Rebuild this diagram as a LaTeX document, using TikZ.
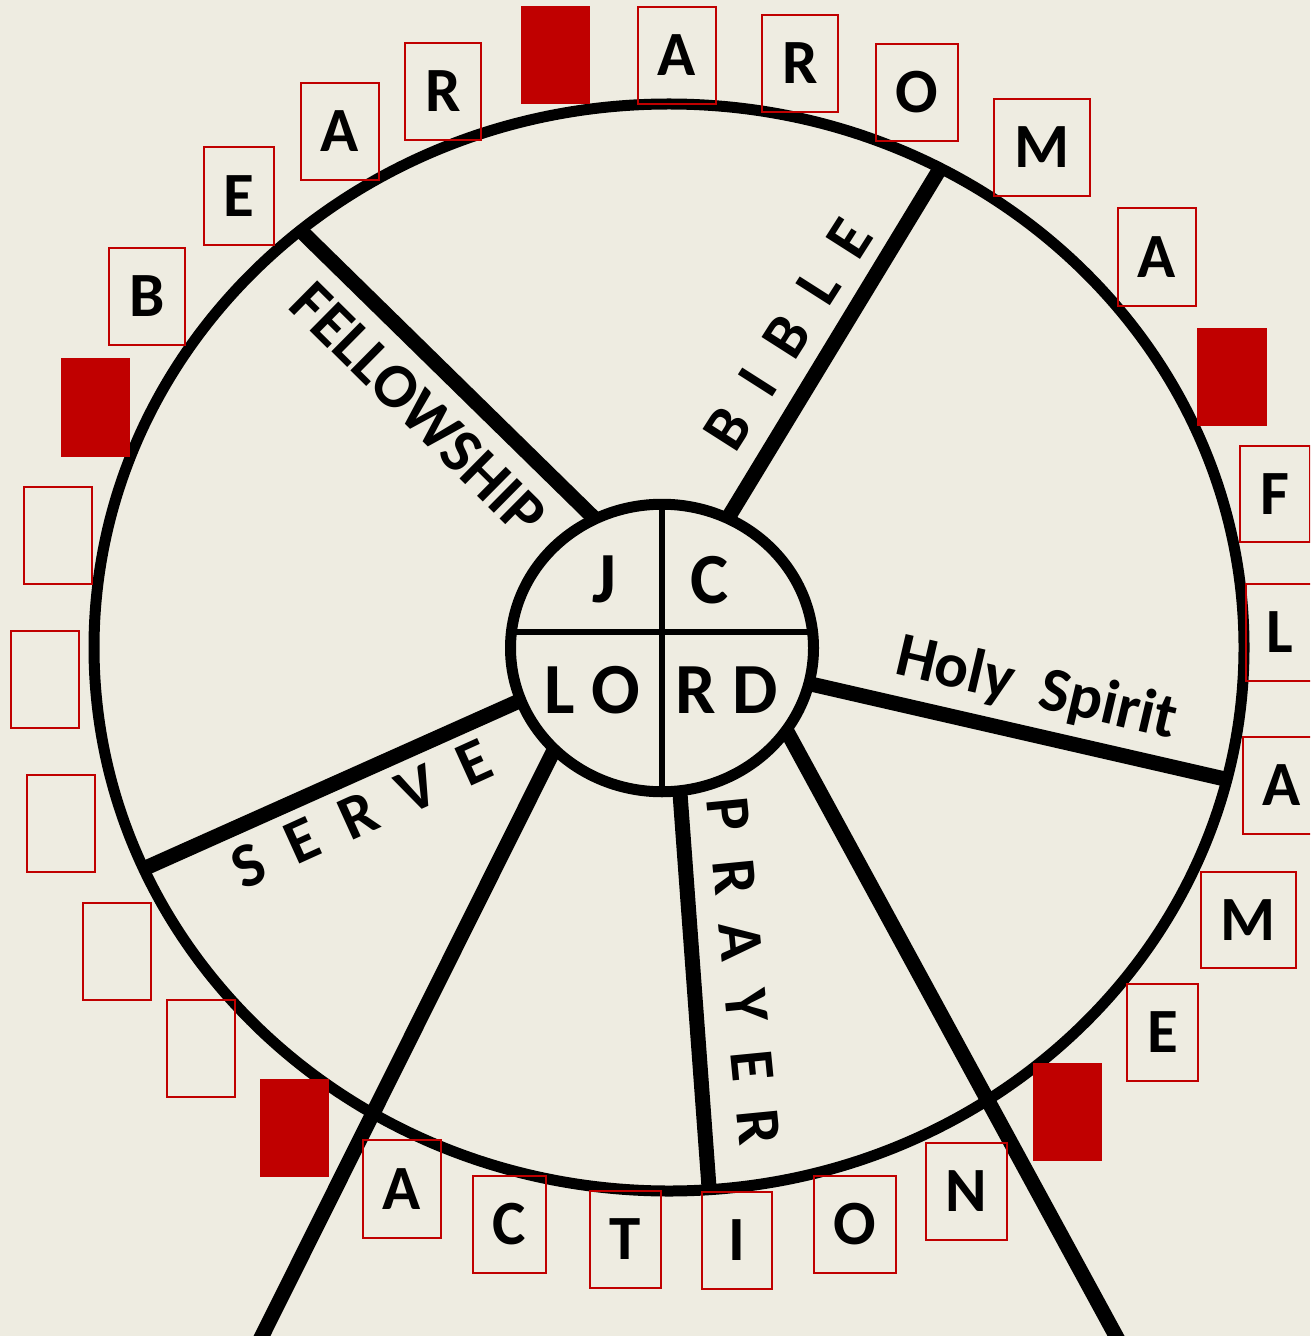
\documentclass[tikz,border=0pt]{standalone}
\usepackage{fontspec}
\setmainfont{Carlito}
\usetikzlibrary{fit}
\definecolor{bgc}{RGB}{238,236,225}
\definecolor{redc}{RGB}{192,0,0}
% letter box: #1 name, #2-#5 corners, #6 letter
\newcommand\lbx[6]{%
  \node[redbox, fit={(#2,#3) (#4,#5)}] (#1) {};
  \node[boxletter] (#1t) at (#1.center) {#6};
}
\begin{document}
\begin{tikzpicture}[x=0.5pt,y=-0.5pt,
  spoke/.style={line width=7.5pt, line cap=butt},
  rim/.style={line width=5.5pt},
  qline/.style={line width=3pt},
  lblfont/.style={font=\fontsize{31.5}{36}\selectfont\bfseries, inner sep=0pt, text=black},
  hubfont/.style={font=\fontsize{36}{40}\selectfont\bfseries, inner sep=0pt, text=black},
  redbox/.style={draw=redc, line width=1pt, inner sep=0pt},
  boxletter/.style={font=\fontsize{31.5}{36}\selectfont\bfseries, inner sep=0pt, text=black, anchor=center},
  redfill/.style={fill=redc, draw=none, inner sep=0pt}
]
\useasboundingbox (0,0) rectangle (1310,1336);
\fill[bgc] (0,0) rectangle (1310,1336);
\clip (0,0) rectangle (1310,1336);

% centres
\coordinate (wc) at (669,647.5);
\coordinate (hub) at (662,648);

% spoke end points
\coordinate (s1a) at (605.7,529.5); \coordinate (s1b) at (289.3,219.5);
\coordinate (s2a) at (719.9,531.3); \coordinate (s2b) at (948,155.6);
\coordinate (s3a) at (794.2,680.2); \coordinate (s3b) at (1241.5,782.8);
\coordinate (s4a) at (779.1,717.0); \coordinate (s4b) at (1122,1347);
\coordinate (s5a) at (678.7,775.8); \coordinate (s5b) at (710.3,1204.8);
\coordinate (s6a) at (561.1,735.8); \coordinate (s6b) at (258,1344);
\coordinate (s7a) at (534.5,694.2); \coordinate (s7b) at (130,874.9);

% short spokes, cut at the rim
\begin{scope}
  \clip (wc) ellipse [x radius=287.5pt, y radius=271.75pt];
  \draw[spoke] (s1a) -- (s1b);
  \draw[spoke] (s2a) -- (s2b);
  \draw[spoke] (s3a) -- (s3b);
  \draw[spoke] (s5a) -- (s5b);
  \draw[spoke] (s7a) -- (s7b);
\end{scope}
% long spokes
\draw[spoke] (s4a) -- (s4b);
\draw[spoke] (s6a) -- (s6b);

% wheel rim
\draw[rim] (wc) ellipse [x radius=287.5pt, y radius=271.75pt];

% hub
\fill[bgc] (hub) ellipse [x radius=75.75pt, y radius=71.875pt];
\coordinate (q1) at (662,490); \coordinate (q2) at (662,806);
\coordinate (q3) at (500,632); \coordinate (q4) at (825,632);
\begin{scope}
  \clip (hub) ellipse [x radius=75.75pt, y radius=71.875pt];
  \draw[qline] (q1) -- (q2);
  \draw[qline] (q3) -- (q4);
\end{scope}
\draw[rim] (hub) ellipse [x radius=75.75pt, y radius=71.875pt];

% hub letters
\node[hubfont, anchor=base] (hJ) at (604,602) {J};
\node[hubfont, anchor=base] (hC) at (710,603) {C};
\node[hubfont, anchor=base] (hLO) at (592,713) {L O};
\node[hubfont, anchor=base] (hRD) at (727,713) {R D};

% spoke labels
\node[lblfont, anchor=center, rotate=-44.7] (lfel) at (418.5,409.5) {FELLOWSHIP};
\node[lblfont, anchor=center, rotate=57.5] (lbib) at (788,334.5) {B~~I~~B~~L~~E};
\node[lblfont, anchor=base, rotate=-13.2] (lhol) at (1032.5,706) {Holy~~Spirit};
\node[lblfont, anchor=center, rotate=-84.4] (lpra) at (743.5,971) {P~~R~~A~~Y~~E~~R};
\node[lblfont, anchor=center, rotate=24.4] (lser) at (361.5,814) {S~~E~~R~~V~~E};

% letter boxes
\lbx{b1}{405}{43}{481}{140}{R}
\lbx{b2}{301}{83}{379}{180}{A}
\lbx{b3}{204}{147}{274}{245}{E}
\lbx{b4}{109}{248}{185}{345}{B}
\node[redfill, fit={(61,358) (130,457)}] (f1) {};
\node[redbox, fit={(24,487) (92,584)}] (e1) {};
\node[redbox, fit={(11,631) (79,728)}] (e2) {};
\node[redbox, fit={(27,775) (95,872)}] (e3) {};
\node[redbox, fit={(83,903) (151,1000)}] (e4) {};
\node[redbox, fit={(167,1000) (235,1097)}] (e5) {};
\node[redfill, fit={(260,1079) (329,1177)}] (f2) {};
\lbx{b5}{363}{1140}{441}{1238}{A}
\lbx{b6}{473}{1176}{546}{1273}{C}
\lbx{b7}{590}{1191}{661}{1288}{T}
\lbx{b8}{702}{1192}{772}{1289}{I}
\lbx{b9}{814}{1176}{896}{1273}{O}
\lbx{b10}{926}{1143}{1007}{1240}{N}
\node[redfill, fit={(1033,1063) (1102,1161)}] (f3) {};
\lbx{b11}{1127}{984}{1198}{1081}{E}
\lbx{b12}{1201}{872}{1296}{968}{M}
\lbx{b13}{1243}{737}{1321}{834}{A}
\lbx{b14}{1246}{584}{1314}{681}{L}
\lbx{b15}{1240}{446}{1310}{542}{F}
\node[redfill, fit={(1197,328) (1267,426)}] (f4) {};
\lbx{b16}{1118}{208}{1196}{306}{A}
\lbx{b17}{994}{99}{1090}{196}{M}
\lbx{b18}{876}{44}{958}{141}{O}
\lbx{b19}{762}{15}{838}{112}{R}
\lbx{b20}{638}{7}{716}{104}{A}
\node[redfill, fit={(521,6) (590,104)}] (f5) {};
\end{tikzpicture}
\end{document}
